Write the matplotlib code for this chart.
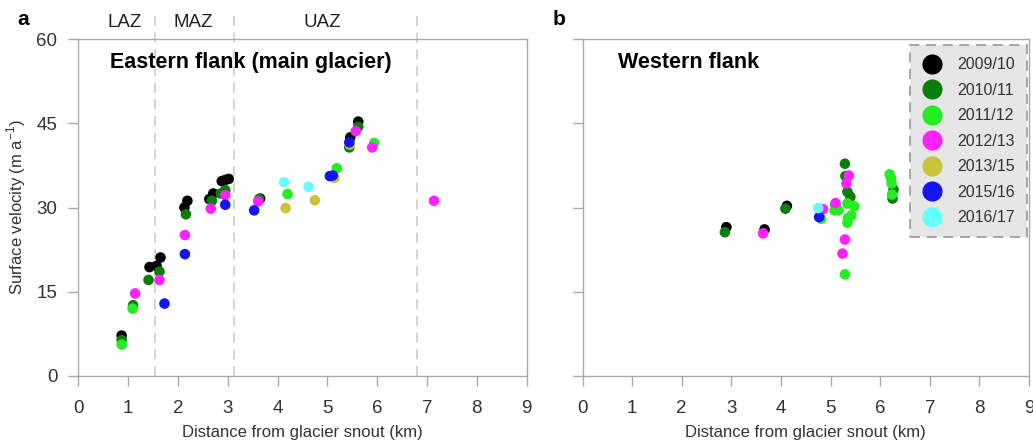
import matplotlib.pyplot as plt
from matplotlib.lines import Line2D

plt.rcParams['font.family'] = ['Liberation Sans', 'DejaVu Sans']
plt.rcParams['mathtext.fontset'] = 'custom'
plt.rcParams['mathtext.rm'] = 'Liberation Sans'

years = ["2009/10", "2010/11", "2011/12", "2012/13", "2013/15", "2015/16", "2016/17"]
colors = ["#000000", "#0a7d0a", "#22ee22", "#ff22ff", "#c8c43a", "#1414f5", "#66ffff"]

# eastern flank (main glacier): distance (km), velocity (m/a) per year
east_x = {
    "2009/10": [0.87, 1.43, 1.57, 1.65, 2.13, 2.19, 2.63, 2.71, 2.88, 2.95, 3.02, 3.65, 5.46, 5.62],
    "2010/11": [0.87, 1.10, 1.41, 1.63, 2.16, 2.68, 2.86, 2.95, 3.63, 5.44, 5.62],
    "2011/12": [0.87, 1.09, 4.20, 5.19, 5.94],
    "2012/13": [1.14, 1.63, 2.14, 2.66, 2.95, 3.61, 5.57, 5.90, 7.14],
    "2013/15": [4.16, 4.75, 5.14, 5.45],
    "2015/16": [1.73, 2.14, 2.95, 3.53, 5.05, 5.11, 5.44],
    "2016/17": [4.13, 4.62],
}
east_v = {
    "2009/10": [7.2, 19.4, 19.6, 21.1, 30.0, 31.2, 31.5, 32.5, 34.7, 34.9, 35.1, 31.6, 42.5, 45.3],
    "2010/11": [6.4, 12.6, 17.1, 18.6, 28.8, 31.2, 32.5, 33.1, 31.5, 40.7, 44.4],
    "2011/12": [5.6, 12.0, 32.4, 37.0, 41.5],
    "2012/13": [14.7, 17.1, 25.1, 29.8, 32.2, 31.1, 43.6, 40.7, 31.2],
    "2013/15": [29.9, 31.3, 35.3, 41.2],
    "2015/16": [12.9, 21.7, 30.5, 29.5, 35.6, 35.7, 41.6],
    "2016/17": [34.5, 33.7],
}

# western flank
west_x = {
    "2009/10": [2.90, 3.67, 4.12],
    "2010/11": [2.87, 4.09, 5.10, 5.29, 5.30, 5.34, 5.40, 6.27, 6.25],
    "2011/12": [4.81, 5.08, 5.16, 5.34, 5.48, 5.42, 5.35, 5.34, 5.29, 6.19, 6.22, 6.23, 6.24],
    "2012/13": [3.64, 4.85, 5.10, 5.37, 5.32, 5.29, 5.24],
    "2013/15": [],
    "2015/16": [4.77],
    "2016/17": [4.75],
}
west_v = {
    "2009/10": [26.5, 26.1, 30.3],
    "2010/11": [25.6, 29.8, 30.4, 37.8, 35.6, 32.8, 31.9, 33.2, 31.6],
    "2011/12": [28.0, 29.5, 29.5, 30.7, 30.2, 28.6, 28.1, 27.3, 18.1, 35.9, 35.2, 34.3, 32.3],
    "2012/13": [25.4, 29.7, 30.8, 35.7, 34.3, 24.3, 21.8],
    "2013/15": [],
    "2015/16": [28.3],
    "2016/17": [29.9],
}

zone_bounds = [1.54, 3.13, 6.8]
zone_names = ["LAZ", "MAZ", "UAZ"]
zone_pos = [0.94, 2.3, 4.9]

grey = "#aaaaaa"
fig = plt.figure(figsize=(10.33, 4.41), dpi=100)
ax1 = fig.add_axes([0.0758, 0.1474, 0.434, 0.764])
ax2 = fig.add_axes([0.5639, 0.1474, 0.4322, 0.764])

for ax, xs, vs in [(ax1, east_x, east_v), (ax2, west_x, west_v)]:
    for yr, c in zip(years, colors):
        ax.scatter(xs[yr], vs[yr], s=58, color=c, edgecolors="none", zorder=3)
    ax.set_xlim(0, 9)
    ax.set_ylim(0, 60)
    ax.set_xticks(range(10))
    ax.set_yticks([0, 15, 30, 45, 60])
    for sp in ax.spines.values():
        sp.set_color(grey)
        sp.set_linewidth(1)
    ax.tick_params(direction="out", length=7, width=1, color=grey,
                   labelsize=13.5, labelcolor="#333333")
    ax.tick_params(axis="x", pad=10)
    ax.tick_params(axis="y", pad=8)
    ax.set_xlabel("Distance from glacier snout (km)", fontsize=12, color="#333333", labelpad=6)

ax1.set_ylabel("Surface velocity (m a$^{-1}$)", fontsize=12, color="#333333", labelpad=6)
ax2.tick_params(labelleft=False)

for b in zone_bounds:
    ax1.axvline(b, ymin=0, ymax=1.08, clip_on=False, color="#cccccc",
                lw=1.2, ls=(0, (6, 4)), zorder=1)
for name, xp in zip(zone_names, zone_pos):
    ax1.text(xp, 1.05, name, transform=ax1.get_xaxis_transform(),
             ha="center", va="center", fontsize=13.5, color="#222222")

ax1.text(0.64, 55.9, "Eastern flank (main glacier)", fontsize=15.5,
         fontweight="bold", ha="left", va="center")
ax2.text(0.71, 55.9, "Western flank", fontsize=15.5,
         fontweight="bold", ha="left", va="center")

fig.text(0.017, 0.955, "a", fontsize=15, fontweight="bold", va="center")
fig.text(0.535, 0.955, "b", fontsize=15, fontweight="bold", va="center")

handles = [Line2D([], [], ls="none", marker="o", markersize=14.5,
                  markerfacecolor=c, markeredgecolor="none") for c in colors]
leg = ax2.legend(handles, years, loc="upper right", bbox_to_anchor=(0.995, 0.982),
                 borderaxespad=0, fontsize=11.5, frameon=True, fancybox=False,
                 handlelength=1.2, handletextpad=1.0, labelspacing=0.66,
                 borderpad=0.75, labelcolor="#333333")
frame = leg.get_frame()
frame.set_facecolor("#e6e6e6")
frame.set_edgecolor("#999999")
frame.set_linestyle((0, (6, 4)))
frame.set_linewidth(1.2)
frame.set_alpha(1)

fig.savefig("out.png", dpi=100)
